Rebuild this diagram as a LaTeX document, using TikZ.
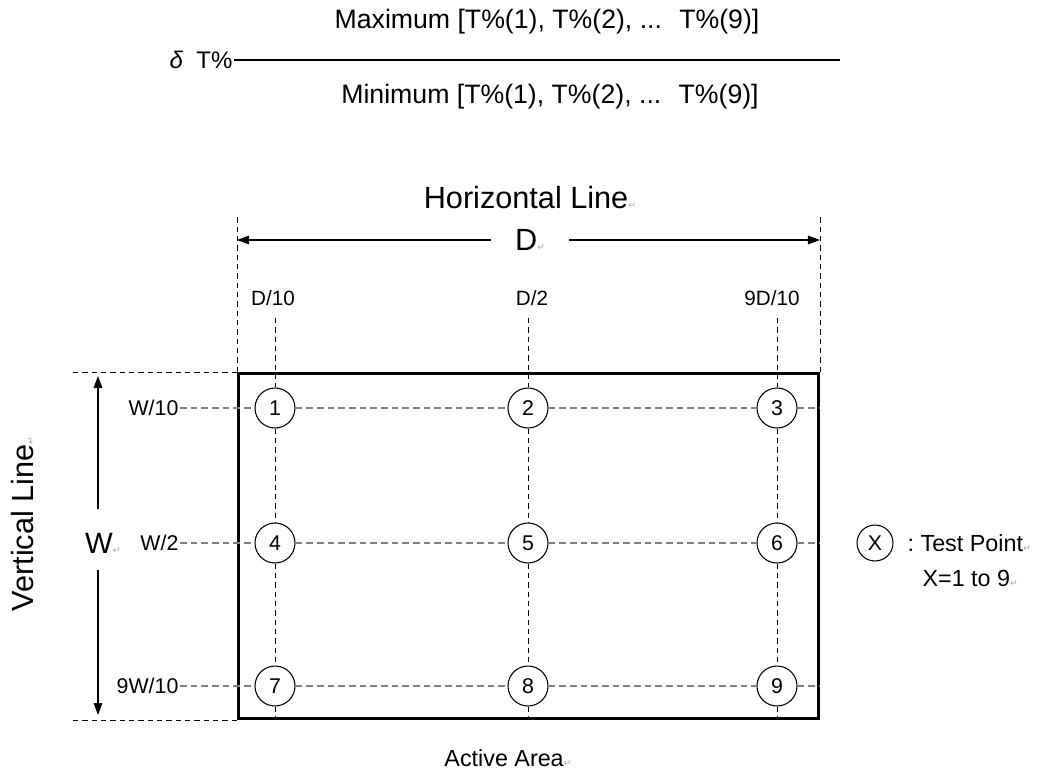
\documentclass[tikz,border=0pt]{standalone}
\usepackage{fontspec}
\setmainfont{Liberation Sans}
\newfontfamily\symfont{DejaVu Sans}
\usetikzlibrary{positioning,arrows.meta}
\newcommand{\pmark}{{\color{gray!70}\symfont\fontsize{7}{8}\selectfont ↵}}

\begin{document}
\begin{tikzpicture}[
    x=0.75pt, y=-0.75pt,
    big/.style={inner sep=1pt, font=\fontsize{17.5}{20}\selectfont},
    huge/.style={inner sep=1pt, font=\fontsize{23}{27}\selectfont},
    formula/.style={inner sep=1pt, font=\fontsize{20}{24}\selectfont},
    lbl/.style={inner sep=1pt, font=\fontsize{15.5}{18}\selectfont},
    rowlbl/.style={inner sep=1pt, font=\fontsize{16}{18}\selectfont},
    testpt/.style={circle, draw, line width=0.8pt, minimum size=30pt, inner sep=0pt, font=\fontsize{16}{18}\selectfont},
    extline/.style={dash pattern=on 4pt off 3pt, line width=0.6pt},
    gridv/.style={dash pattern=on 4pt off 3pt, line width=0.6pt},
    gridh/.style={gray, dash pattern=on 5pt off 3pt, line width=1pt},
    arrow/.style={-{Triangle[length=9pt,width=6.5pt]}, line width=0.8pt}
]
    \useasboundingbox (0,0) rectangle (1053,779);

    % Formula
    \node[formula] (max) at (547,22) {Maximum [T\%(1), T\%(2), ... \ T\%(9)]};
    \node[big, font=\fontsize{18}{22}\selectfont, anchor=east] (dt) at (234,60) {\textit{δ}\ \ T\%};
    \coordinate (fracend) at (840,58);
    \draw[line width=0.8pt] (dt.east) -- (fracend |- dt.east);
    \node[formula] (min) at (550,97) {Minimum [T\%(1), T\%(2), ... \ T\%(9)]};

    % Active area
    \node[draw, line width=2.2pt, minimum width=435pt, minimum height=259pt, inner sep=0pt, anchor=north west] (area) at (237,372) {};

    % Horizontal dimension
    \node[huge] (hline) at (530,198) {Horizontal Line\pmark};
    \coordinate (dtop) at (0,217);
    \draw[extline] (area.north west) -- (area.north west |- dtop);
    \draw[extline] (area.north east) -- (area.north east |- dtop);
    \node[huge, inner ysep=2pt, inner xsep=18pt] (dlab) at (530,240) {D\pmark};
    \draw[arrow] (dlab.west) -- (dlab.west -| area.west);
    \draw[arrow] (dlab.east) -- (dlab.east -| area.east);

    % Column labels
    \node[lbl] (c1) at (273,298) {D/10};
    \node[lbl] (c2) at (532,298) {D/2};
    \node[lbl] (c3) at (772,298) {9D/10};

    % Row labels
    \node[rowlbl, anchor=east] (r1) at (180,408) {W/10};
    \node[rowlbl, anchor=east] (r2) at (180,543) {W/2};
    \node[rowlbl, anchor=east] (r3) at (180,686) {9W/10};

    % Test points
    \foreach \n/\x/\y in {1/275/408, 2/528/408, 3/777/408,
                          4/275/543, 5/528/543, 6/777/543,
                          7/275/686, 8/528/686, 9/777/686}
        \node[testpt] (p\n) at (\x,\y) {\n};

    % Grid lines
    \coordinate (vtop) at (0,318);
    \draw[gridh] (r1) -- (p1) (p1) -- (p2) (p2) -- (p3) (p3) -- (p3 -| area.east);
    \draw[gridh] (r2) -- (p4) (p4) -- (p5) (p5) -- (p6) (p6) -- (p6 -| area.east);
    \draw[gridh] (r3) -- (p7) (p7) -- (p8) (p8) -- (p9) (p9) -- (p9 -| area.east);
    \draw[gridv] (p1 |- vtop) -- (p1) (p1) -- (p4) (p4) -- (p7) (p7) -- (p7 |- area.south);
    \draw[gridv] (p2 |- vtop) -- (p2) (p2) -- (p5) (p5) -- (p8) (p8) -- (p8 |- area.south);
    \draw[gridv] (p3 |- vtop) -- (p3) (p3) -- (p6) (p6) -- (p9) (p9) -- (p9 |- area.south);

    % Vertical dimension
    \coordinate (wx) at (70,0);
    \draw[extline] (area.north west) -- (area.north west -| wx);
    \draw[extline] (area.south west) -- (area.south west -| wx);
    \node[huge, font=\fontsize{22}{26}\selectfont, inner sep=0pt] (wlab) at (103,543) {W\pmark};
    \coordinate (wtop) at (98,376);
    \coordinate (wbot) at (98,715);
    \coordinate (wa) at (98,509);
    \coordinate (wb) at (98,570);
    \draw[arrow] (wa) -- (wtop);
    \draw[arrow] (wb) -- (wbot);
    \node[huge, rotate=90] (vline) at (23,524) {Vertical Line\pmark};

    % Bottom label
    \node[big] (active) at (508,758) {Active Area\pmark};

    % Legend
    \node[testpt, minimum size=27pt] (px) at (875,543) {X};
    \node[big, anchor=west] (tp) at (906,543) {:\ Test Point\pmark};
    \node[big, anchor=west] (xr) at (921,578) {X=1 to 9\pmark};
\end{tikzpicture}
\end{document}
